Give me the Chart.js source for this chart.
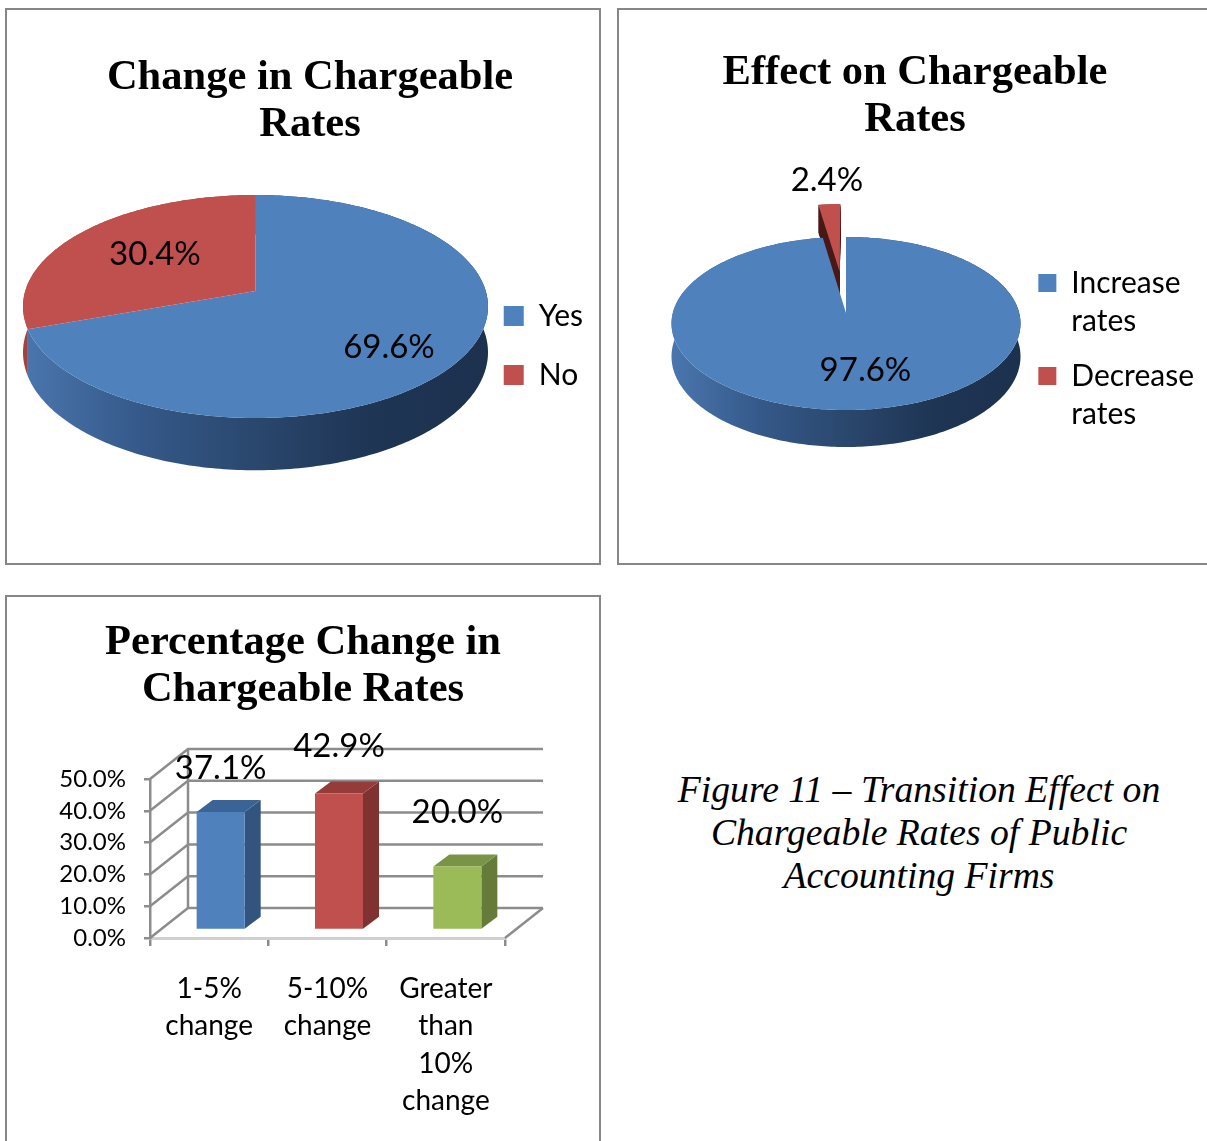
<!DOCTYPE html>
<html lang="en">
<head>
  <meta charset="UTF-8">
  <title>Figure 11 - Transition Effect on Chargeable Rates</title>
  <script src="https://cdn.jsdelivr.net/npm/chart.js"></script>
  <style>
    html, body { margin: 0; padding: 0; background: #fff; overflow: hidden; width: 1207px; height: 1141px; }
    canvas, .panel, #caption { position: absolute; }
    .panel { border: 2px solid #868686; box-sizing: border-box; }
    #caption {
      left: 630px; top: 768px; width: 578px; text-align: center;
      font: italic 37.7px/43px "Liberation Serif", serif; color: #000;
    }
  </style>
</head>
<body>
  <div class="panel" style="left:5px;top:8px;width:596px;height:557px"></div>
  <div class="panel" style="left:617px;top:8px;width:600px;height:557px"></div>
  <div class="panel" style="left:5px;top:595px;width:596px;height:560px"></div>
  <canvas id="changeChart" width="620" height="560" style="left:0;top:0"></canvas>
  <canvas id="effectChart" width="594" height="560" style="left:618px;top:0"></canvas>
  <canvas id="percentChart" width="606" height="551" style="left:0;top:590px"></canvas>
  <div id="caption">Figure 11 – Transition Effect on<br>Chargeable Rates of Public<br>Accounting Firms</div>

  <script>
    // Values
    const changeLabels = ['Yes', 'No'];
    const changeValues = [69.6, 30.4];
    const effectLabels = [['Increase', 'rates'], ['Decrease', 'rates']];
    const effectValues = [97.6, 2.4];
    const percentLabels = [['1-5%', 'change'], ['5-10%', 'change'], ['Greater', 'than', '10%', 'change']];
    const percentValues = [37.1, 42.9, 20.0];
    const yTickLabels = ['0.0%', '10.0%', '20.0%', '30.0%', '40.0%', '50.0%'];

    const BLUE = '#4f81bd', RED = '#c0504d', GREEN = '#9bbb59';
    const GRID = '#8c8c8c';
    const TITLE_FONT = { family: '"Liberation Serif", serif', size: 42.5, weight: 'bold', lineHeight: 47 / 42.5 };
    const TEXT_FAMILY = 'Lato, sans-serif';
    const WALL_BLUE = ['#4a76ae', '#35598a', '#2a476d', '#1e3554', '#1c314e'];
    const WALL_RED = ['#a5423f', '#8f3835'];

    // Draws the library's arcs with a perspective tilt: the back of the pie is
    // squeezed more than the front, so the centre sits above the ellipse middle.
    const tiltedPie = {
      id: 'tiltedPie',
      beforeDatasetDraw(chart, args, opts) {
        const ctx = chart.ctx;
        const arcs = chart.getDatasetMeta(0).data;
        const project = makeProjection(arcs[0].outerRadius, opts);

        const outline = (el, d) => {
          const pts = slicePoints(el, project, d);
          ctx.beginPath();
          pts.forEach((p, i) => i ? ctx.lineTo(p[0], p[1]) : ctx.moveTo(p[0], p[1]));
          ctx.closePath();
        };

        // side wall
        arcs.forEach((el, i) => {
          if (el.options.offset) return;
          const R = el.outerRadius;
          const g = ctx.createLinearGradient(opts.cx - R, 0, opts.cx + R, 0);
          opts.walls[i].forEach((c, k) => g.addColorStop(k / (opts.walls[i].length - 1), c));
          const top = arcPoints(el, project, 0);
          const low = arcPoints(el, project, opts.depth).reverse();
          ctx.beginPath();
          top.concat(low).forEach((p, k) => k ? ctx.lineTo(p[0], p[1]) : ctx.moveTo(p[0], p[1]));
          ctx.closePath();
          ctx.fillStyle = g;
          ctx.fill();
        });

        // cut face of exploded slices, sits under the rest of the pie
        arcs.filter(el => el.options.offset).forEach(el => {
          ctx.fillStyle = opts.faceColor;
          for (let d = opts.depth; d > 0; d--) {
            outline(el, d);
            ctx.fill();
          }
        });

        arcs.forEach(el => {
          outline(el, 0);
          ctx.fillStyle = el.options.backgroundColor;
          ctx.fill();
        });
        return false;
      },
      afterDatasetsDraw(chart, args, opts) {
        const ctx = chart.ctx;
        const arcs = chart.getDatasetMeta(0).data;
        const project = makeProjection(arcs[0].outerRadius, opts);
        ctx.save();
        ctx.font = '33px ' + TEXT_FAMILY;
        ctx.fillStyle = '#000';
        ctx.textAlign = 'center';
        ctx.textBaseline = 'middle';
        arcs.forEach((el, i) => {
          const mid = (el.startAngle + el.endAngle) / 2;
          const r = (el.options.offset || 0) + el.outerRadius * opts.labelRadius[i];
          const p = project(Math.cos(mid) * r, Math.sin(mid) * r, 0);
          const text = chart.data.datasets[0].data[i].toFixed(1) + '%';
          ctx.fillText(text, p[0] + opts.labelShift[i][0], p[1] + opts.labelShift[i][1]);
        });
        ctx.restore();
      }
    };

    function makeProjection(R, o) {
      const t = (o.back - o.front) / (o.back + o.front);
      const A = o.back * (1 - t);
      const B = R * Math.sqrt(1 - t * t);
      return (X, Y, d) => {
        const w = 1 + t * Y / R;
        return [o.cx + B * (X / R) / w, o.cy + (A * (Y / R) + d) / w];
      };
    }

    function arcPoints(el, project, d) {
      const mid = (el.startAngle + el.endAngle) / 2;
      const off = el.options.offset || 0;
      const ox = Math.cos(mid) * off, oy = Math.sin(mid) * off;
      const steps = Math.max(2, Math.ceil((el.endAngle - el.startAngle) * 60));
      const pts = [];
      for (let i = 0; i <= steps; i++) {
        const a = el.startAngle + (el.endAngle - el.startAngle) * i / steps;
        pts.push(project(ox + Math.cos(a) * el.outerRadius, oy + Math.sin(a) * el.outerRadius, d));
      }
      return pts;
    }

    function slicePoints(el, project, d) {
      const mid = (el.startAngle + el.endAngle) / 2;
      const off = el.options.offset || 0;
      return [project(Math.cos(mid) * off, Math.sin(mid) * off, d)].concat(arcPoints(el, project, d));
    }

    function pieChart(id, title, labels, values, o) {
      return new Chart(document.getElementById(id), {
        type: 'pie',
        plugins: [tiltedPie],
        data: {
          labels: labels,
          datasets: [{
            data: values,
            backgroundColor: [BLUE, RED],
            borderWidth: 0,
            offset: o.offset
          }]
        },
        options: {
          responsive: false,
          animation: false,
          radius: o.radius,
          layout: { padding: o.padding },
          plugins: {
            tooltip: { enabled: false },
            title: { display: true, text: title, color: '#000', font: TITLE_FONT, padding: o.titlePadding },
            legend: {
              position: 'right',
              fullSize: false,
              labels: {
                boxWidth: o.boxSize, boxHeight: o.boxSize, color: '#000', padding: o.legendGap,
                font: { family: TEXT_FAMILY, size: 30, lineHeight: 38 / 30 }
              }
            },
            tiltedPie: o.tilt
          }
        }
      });
    }

    pieChart('changeChart', ['Change in Chargeable', 'Rates'], changeLabels, changeValues, {
      radius: 232.5, offset: [0, 0], legendGap: 29, boxSize: 20,
      padding: { left: 27, right: 27, bottom: 27 },
      titlePadding: { top: 55, bottom: 9 },
      tilt: {
        cx: 255.5, cy: 291, back: 96, front: 127, depth: 45,
        walls: [WALL_BLUE, WALL_RED],
        faceColor: '#4a1a18',
        labelRadius: [0.6, 0.6], labelShift: [[15, 17], [7, 0]]
      }
    });

    pieChart('effectChart', ['Effect on Chargeable', 'Rates'], effectLabels, effectValues, {
      radius: 174.5, offset: [0, 90], legendGap: 17, boxSize: 18,
      padding: { left: 8, right: 8, bottom: 8 },
      titlePadding: { top: 50, bottom: 9 },
      tilt: {
        cx: 228, cy: 313, back: 76, front: 97, depth: 32.5,
        walls: [WALL_BLUE, WALL_RED],
        faceColor: '#4a1a18',
        labelRadius: [0.6, 1.43], labelShift: [[11, 2], [1.5, 1]]
      }
    });

    // Depth of the 3D box and how far the bars sit inside it
    const boxDx = 38, boxDy = -30, barDx = 11.5, barDy = -8, sideDx = 16, sideDy = -12;
    const barSides = ['#345480', '#7f322f', '#667b3a'];
    const barTops = ['#3a6396', '#953c3a', '#7a9446'];
    const labelGaps = [44, 47, 54];

    const box3d = {
      id: 'box3d',
      beforeDatasetsDraw(chart) {
        const ctx = chart.ctx;
        const { left, right, bottom } = chart.chartArea;
        const y = chart.scales.y;
        ctx.save();
        ctx.strokeStyle = GRID;
        ctx.lineWidth = 2.5;
        y.ticks.forEach((t, i) => {
          const py = y.getPixelForTick(i);
          ctx.beginPath();
          ctx.moveTo(left, py);
          ctx.lineTo(left + boxDx, py + boxDy);
          ctx.lineTo(right + boxDx, py + boxDy);
          ctx.stroke();
        });
        ctx.beginPath();
        ctx.moveTo(left + boxDx, y.getPixelForTick(0) + boxDy);
        ctx.lineTo(left + boxDx, y.getPixelForTick(y.ticks.length - 1) + boxDy);
        ctx.moveTo(right, bottom);
        ctx.lineTo(right + boxDx, bottom + boxDy);
        ctx.stroke();
        ctx.restore();
      },
      beforeDatasetDraw(chart) {
        const ctx = chart.ctx;
        chart.getDatasetMeta(0).data.forEach((bar, i) => {
          const x0 = bar.x - bar.width / 2 + barDx, x1 = bar.x + bar.width / 2 + barDx;
          const top = bar.y + barDy, base = bar.base + barDy;
          ctx.fillStyle = barSides[i];
          ctx.beginPath();
          ctx.moveTo(x1, top);
          ctx.lineTo(x1 + sideDx, top + sideDy);
          ctx.lineTo(x1 + sideDx, base + sideDy);
          ctx.lineTo(x1, base);
          ctx.closePath();
          ctx.fill();
          ctx.fillStyle = barTops[i];
          ctx.beginPath();
          ctx.moveTo(x0, top);
          ctx.lineTo(x0 + sideDx, top + sideDy);
          ctx.lineTo(x1 + sideDx, top + sideDy);
          ctx.lineTo(x1, top);
          ctx.closePath();
          ctx.fill();
          ctx.save();
          ctx.translate(barDx, barDy);
          bar.draw(ctx);
          ctx.restore();
        });
        return false;
      },
      afterDatasetsDraw(chart) {
        const ctx = chart.ctx;
        ctx.save();
        ctx.font = '33px ' + TEXT_FAMILY;
        ctx.fillStyle = '#000';
        ctx.textAlign = 'center';
        ctx.textBaseline = 'middle';
        chart.getDatasetMeta(0).data.forEach((bar, i) => {
          ctx.fillText(percentValues[i].toFixed(1) + '%', bar.x + barDx, bar.y + barDy - labelGaps[i]);
        });
        ctx.restore();
      }
    };

    new Chart(document.getElementById('percentChart'), {
      type: 'bar',
      plugins: [box3d],
      data: {
        labels: percentLabels,
        datasets: [{
          data: percentValues,
          backgroundColor: [BLUE, RED, GREEN],
          barPercentage: 48 / 118.3,
          categoryPercentage: 1
        }]
      },
      options: {
        responsive: false,
        animation: false,
        plugins: {
          legend: { display: false },
          tooltip: { enabled: false },
          title: {
            display: true, text: ['Percentage Change in', 'Chargeable Rates'], color: '#000',
            font: TITLE_FONT, padding: { top: 30, bottom: 65 }
          }
        },
        scales: {
          x: {
            afterFit(scale) { scale.height = 203; },
            grid: { color: GRID, lineWidth: 2.5, tickLength: 8, drawOnChartArea: false },
            border: { color: '#d0d0d0', width: 3 },
            ticks: {
              maxRotation: 0, color: '#000', padding: 24,
              font: { family: TEXT_FAMILY, size: 28, lineHeight: 37.5 / 28 }
            }
          },
          y: {
            min: 0,
            max: 50,
            afterFit(scale) { scale.width = 150; },
            grid: { color: GRID, lineWidth: 2.5, tickLength: 6, drawOnChartArea: false },
            border: { color: GRID, width: 2.5 },
            ticks: {
              stepSize: 10, color: '#000', padding: 18,
              font: { family: TEXT_FAMILY, size: 24 },
              callback: (v, i) => yTickLabels[i]
            }
          },
          // empty axis, only keeps the room on the right of the plot
          spacer: {
            position: 'right',
            afterFit(scale) { scale.width = 101; },
            grid: { display: false },
            border: { display: false },
            ticks: { display: false }
          }
        }
      }
    });
  </script>
</body>
</html>
